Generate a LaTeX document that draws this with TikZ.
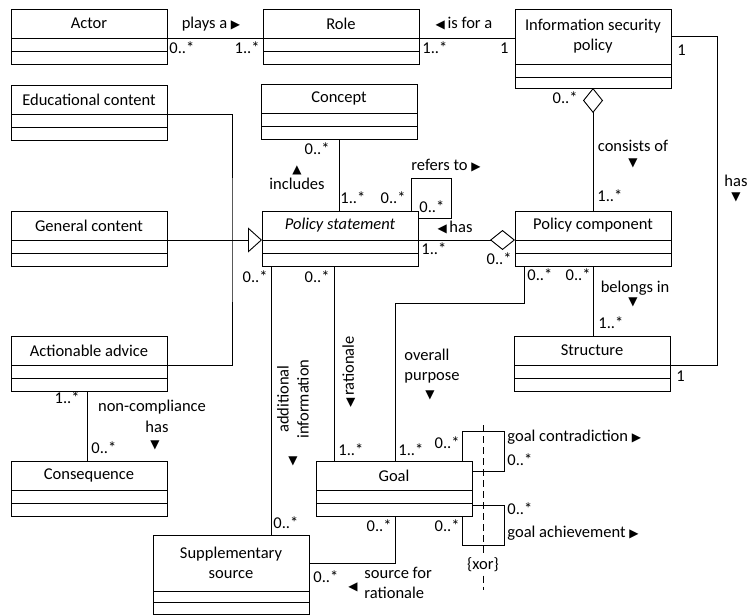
\documentclass[tikz,border=0pt]{standalone}
\usepackage{fontspec}
\setmainfont{Carlito}
\newfontfamily\symfont{DejaVu Sans}
\usetikzlibrary{arrows.meta}
\newcommand{\tri}[1]{{\symfont\fontsize{12}{12}\selectfont #1}}

\tikzset{
	cls/.style={draw, minimum width=156pt, minimum height=29pt, anchor=north west, inner sep=0pt, outer sep=0pt, align=center},
	cmp/.style={draw, minimum width=156pt, minimum height=13pt, anchor=north, inner sep=0pt, outer sep=0pt},
	lbl/.style={inner sep=0pt},
	gen/.style={-{Triangle[open, length=14pt, width=25pt]}},
	aggr/.style={-{Diamond[open, length=25pt, width=20pt]}}
}

\begin{document}
\begin{tikzpicture}[x=1pt, y=-1pt, line width=0.9pt, font=\fontsize{16.5}{20}\selectfont]
					\useasboundingbox (0,0) rectangle (748,616);

					\begin{scope}
						\foreach \id/\x/\y/\txt in {actor/11/9/Actor, role/263/9/Role, educ/11/85/Educational content, concept/261/84/Concept, general/11/211/General content, stmt/262/211/{\itshape Policy statement}, comp/515/211/Policy component, advice/11/336/Actionable advice, structure/514/336/Structure, conseq/11/461/Consequence, goal/316/461/Goal}
						{
							\node[cls] (\id) at (\x,\y) {\txt};
							\node[cmp] (\id-attr) at (\id.south) {};
							\node[cmp] (\id-ops) at (\id-attr.south) {};
						}

						\node[cls, minimum height=55pt] (infosec) at (515,9) {Information security\\policy};
						\node[cmp] (infosec-attr) at (infosec.south) {};
						\node[cmp, minimum height=11pt] (infosec-ops) at (infosec-attr.south) {};

						\node[cls, minimum height=56pt] (supp) at (153,535) {Supplementary\\source};
						\node[cmp, minimum height=11pt] (supp-attr) at (supp.south) {};
						\node[cmp, minimum height=12pt] (supp-ops) at (supp-attr.south) {};
					\end{scope}

					\begin{scope}
						\draw (actor.south east) -- (role.south west);
						\draw (role.south east) -- (role.south east -| infosec.west);
						\draw (infosec.east) -- ++(46,0) |- (structure.south east);
						\draw[aggr] (comp.north) -- (infosec-ops.south);
						\draw (concept-ops.south) -- (concept-ops.south |- stmt.north);
						\draw ([xshift=-7pt]stmt.north east) -- ++(0,-33) -- ++(40,0) -- ++(0,40) -- ++(-33,0);
						\draw[aggr] (stmt.south east) -- (comp.south west);
						\draw (comp-ops.south) -- (comp-ops.south |- structure.north);
						\draw ([xshift=9pt]comp-ops.south west) -- ++(0,37) -| ([xshift=79pt]goal.north west);
						\draw ([xshift=9pt]stmt-ops.south west) coordinate (addtop) -- (addtop |- supp.north);
						\draw ([xshift=72pt]stmt-ops.south west) coordinate (rattop) -- (rattop |- goal.north);
						\draw ([xshift=76pt]advice-ops.south west) coordinate (nctop) -- (nctop |- conseq.north);
						\draw ([xshift=79pt]goal-ops.south west) |- (supp.east);
						\draw ([xshift=-10pt]goal.north east) -- ++(0,-30) -- ++(42,0) -- ++(0,40) -- ++(-32,0);
						\draw ([xshift=-10pt]goal-ops.south east) -- ++(0,29) -- ++(42,0) -- ++(0,-40) -- ++(-32,0);
					\end{scope}

					\begin{scope}
						\coordinate (genbus) at (232,240);
						\draw (educ.south east) -| (genbus) |- (advice.south east);
						\draw[gen] (general.south east) -- (stmt.south west);
					\end{scope}

					\begin{scope}[dash pattern=on 7pt off 4pt]
						\node[lbl, inner sep=3pt] (xor) at (483,565) {\{xor\}};
						\coordinate (xortop) at (483,425);
						\coordinate (xorend) at (483,590);
						\draw (xortop) -- (xor.north);
						\draw (xor.south) -- (xorend);
					\end{scope}

					\begin{scope}[every node/.style={lbl}]
						\node (playsa) at (211,24) {plays a \tri{▶}};
						\node[anchor=west] (m1) at (169,48) {0..*};
						\node[anchor=east] (m2) at (260,48) {1..*};
						\node (isfora) at (464,24) {\tri{◀}\,is for a};
						\node[anchor=west] (m3) at (422,48) {1..*};
						\node[anchor=east] (m4) at (509,48) {1};
						\node[anchor=west] (m5) at (677,50) {1};
						\node (haslbl) at (736,181) {has};
						\node (hastri) at (736,197) {\tri{▼}};
						\node[anchor=west] (m6) at (676,376) {1};
						\node[anchor=east] (m7) at (578,98) {0..*};
						\node (consists) at (633,146) {consists of};
						\node (constri) at (633,163) {\tri{▼}};
						\node[anchor=west] (m8) at (597,196) {1..*};
						\node[anchor=east] (m9) at (330,149) {0..*};
						\node (inctri) at (297,170) {\tri{▲}};
						\node (includes) at (297,184) {includes};
						\node[anchor=west] (m10) at (340,198) {1..*};
						\node (refers) at (446,166) {refers to \tri{▶}};
						\node[anchor=east] (m11) at (406,198) {0..*};
						\node[anchor=west] (m12) at (419,207) {0..*};
						\node (hasps) at (455,228) {\tri{◀}\,has};
						\node[anchor=west] (m13) at (421,249) {1..*};
						\node[anchor=east] (m14) at (512,259) {0..*};
						\node[anchor=east] (m15) at (268,277) {0..*};
						\node[anchor=east] (m16) at (330,277) {0..*};
						\node[rotate=90, align=center] (addinfo) at (293,399) {additional\\information};
						\node (addtri) at (293,461) {\tri{▼}};
						\node[rotate=90] (ratlbl) at (349,372) {\tri{◀}\,rationale};
						\node[anchor=west] (m17) at (338,450) {1..*};
						\node[anchor=west, align=left] (overall) at (404,366) {overall\\purpose};
						\node (ovtri) at (430,395) {\tri{▼}};
						\node[anchor=west] (m18) at (398,450) {1..*};
						\node[anchor=east] (m19) at (460,443) {0..*};
						\node[anchor=west] (m20) at (527,275) {0..*};
						\node[anchor=east] (m21) at (591,275) {0..*};
						\node (belongs) at (635,288) {belongs in};
						\node (beltri) at (633,302) {\tri{▼}};
						\node[anchor=west] (m22) at (598,323) {1..*};
						\node[anchor=east] (m23) at (80,398) {1..*};
						\node (noncomp) at (152,407) {non-compliance};
						\node (nchas) at (157,427) {has};
						\node (nctri) at (155,445) {\tri{▼}};
						\node[anchor=west] (m24) at (91,448) {0..*};
						\node[anchor=west] (m25) at (273,523) {0..*};
						\node[anchor=west] (contra) at (507,437) {goal contradiction \tri{▶}};
						\node[anchor=west] (m26) at (507,460) {0..*};
						\node[anchor=west] (m27) at (507,509) {0..*};
						\node[anchor=west] (achieve) at (507,533) {goal achievement \tri{▶}};
						\node[anchor=east] (m28) at (460,526) {0..*};
						\node[anchor=east] (m29) at (392,526) {0..*};
						\node[anchor=west] (m30) at (313,577) {0..*};
						\node (srctri) at (353,587) {\tri{◀}};
						\node[anchor=west, align=left] (srcfor) at (364,583) {source for\\rationale};
					\end{scope}
				\end{tikzpicture}
\end{document}
